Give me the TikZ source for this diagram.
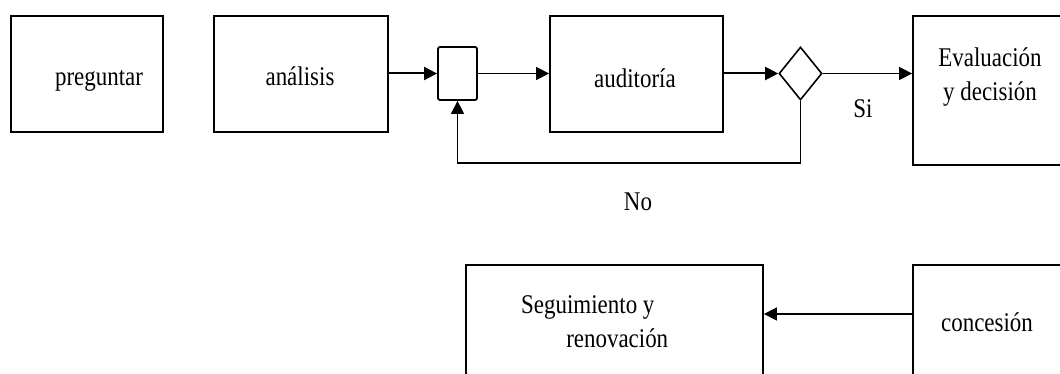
\documentclass[tikz,border=0pt]{standalone}
\usepackage{fontspec}
\setmainfont{Liberation Serif}
\usetikzlibrary{arrows.meta,shapes.geometric}
\newcommand{\narrowtxt}[1]{\scalebox{0.85}[1]{#1}}
\begin{document}
\begin{tikzpicture}[x=1pt,y=-1pt,
  box/.style={draw,line width=1.8pt,inner sep=0pt,rectangle},
  lbl/.style={font=\fontsize{27}{34}\selectfont,inner sep=0pt,anchor=base},
  arr/.style={line width=1.5pt,-{Triangle[length=13pt,width=13pt]}}]
\useasboundingbox (0,0) rectangle (1060,374);
\clip (0,0) rectangle (1060,374);
% boxes
\node[box,minimum width=152pt,minimum height=116pt] (preg) at (87,74) {};
\node[box,minimum width=174pt,minimum height=116pt] (anal) at (301,74) {};
\node[box,rounded corners=2pt,minimum width=39pt,minimum height=53pt] (sq) at (457.5,73.5) {};
\node[box,minimum width=173pt,minimum height=116pt] (aud) at (636.5,74) {};
\node[draw,diamond,line width=1.6pt,inner sep=0pt,minimum width=43pt,minimum height=53pt] (dia) at (800.5,73.5) {};
\node[box,minimum width=162pt,minimum height=149pt] (eval) at (994,90.5) {};
\node[box,minimum width=297pt,minimum height=125pt] (seg) at (614.5,327.5) {};
\node[box,minimum width=162pt,minimum height=125pt] (conc) at (994,327.5) {};
% connectors
\draw[arr,line width=2pt] (anal.east |- sq.west) -- (sq.west);
\draw[arr] (sq.east) -- (sq.east -| aud.west);
\draw[arr,line width=2pt] (aud.east |- dia.west) -- (dia.west);
\draw[arr] (dia.east) -- (dia.east -| eval.west);
\coordinate (nb) at (457.5,163);
\draw[arr] (dia.south) |- (nb) -- (sq.south);
\draw[arr] ([yshift=13.5pt]conc.west) -- ([yshift=13.5pt]seg.east);
% texts
\node[lbl] (tpreg) at (99,86) {\narrowtxt{preguntar}};
\node[lbl] (tanal) at (300,86) {\narrowtxt{análisis}};
\node[lbl] (taud) at (635,88) {\narrowtxt{auditoría}};
\node[lbl] (teval) at (990,67) {\narrowtxt{\begin{tabular}[t]{@{}c@{}}Evaluación\\y decisión\end{tabular}}};
\node[lbl] (tsi) at (863,118) {\narrowtxt{Si}};
\node[lbl] (tno) at (638,211) {\narrowtxt{No}};
\node[lbl,anchor=base west] (tseg) at (521,313) {\narrowtxt{\begin{tabular}[t]{@{}l@{}}Seguimiento y\\\hspace*{53pt}renovación\end{tabular}}};
\node[lbl] (tconc) at (987,331) {\narrowtxt{concesión}};
\end{tikzpicture}
\end{document}
